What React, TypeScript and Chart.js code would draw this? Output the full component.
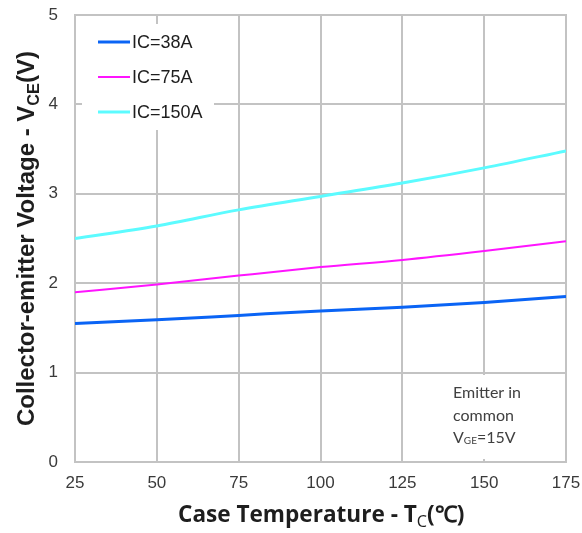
import { useEffect, useRef } from "react";
import { Chart, registerables } from "chart.js";

Chart.register(...registerables);

// Case temperature (°C) sample points
const temperatures = [25, 50, 75, 100, 125, 150, 175];

// Collector-emitter saturation voltage (V) per collector current
const vceIc38 = [1.55, 1.59, 1.64, 1.69, 1.73, 1.785, 1.85];
const vceIc75 = [1.9, 1.985, 2.085, 2.18, 2.26, 2.36, 2.47];
const vceIc150 = [2.5, 2.64, 2.82, 2.97, 3.12, 3.29, 3.48];

const seriesLabels = ["IC=38A", "IC=75A", "IC=150A"];
const seriesColors = ["#0a64f5", "#ff14ff", "#5cfbff"];
const seriesWidths = [3, 2, 3];

// Axis ranges and tick steps
const xRange = [25, 175];
const xStep = 25;
const yRange = [0, 5];
const yStep = 1;

// Axis titles: [main text, subscript, trailing text]
const xTitleParts = ["Case Temperature - T", "C", "(℃)"];
const yTitleParts = ["Collector-emitter Voltage - V", "CE", "(V)"];

// Test-condition note
const noteLines = ["Emitter in", "common"];
const noteCondition = ["V", "GE", "=15V"];

const GRID = "#c3c3c3";
const TEXT = "#1e1e1e";
const TICK_TEXT = "#3a3a3a";

type Fonts = { main: string; sub: string; tail: string };

function partsWidth(ctx: CanvasRenderingContext2D, parts: string[], f: Fonts) {
  ctx.font = f.main;
  const w0 = ctx.measureText(parts[0]).width;
  ctx.font = f.sub;
  const w1 = ctx.measureText(parts[1]).width;
  ctx.font = f.tail;
  const w2 = ctx.measureText(parts[2]).width;
  return [w0, w1, w2];
}

function drawSubscripted(
  ctx: CanvasRenderingContext2D,
  parts: string[],
  x0: number,
  f: Fonts,
  subShift: number
) {
  const [w0, w1] = partsWidth(ctx, parts, f);
  let x = x0;
  ctx.textAlign = "left";
  ctx.textBaseline = "alphabetic";
  ctx.font = f.main;
  ctx.fillText(parts[0], x, 0);
  x += w0;
  ctx.font = f.sub;
  ctx.fillText(parts[1], x, subShift);
  x += w1;
  ctx.font = f.tail;
  ctx.fillText(parts[2], x, 0);
}

// Pick a font size so that the composed title spans the requested length
function fitFonts(
  ctx: CanvasRenderingContext2D,
  parts: string[],
  make: (s: number) => Fonts,
  base: number,
  target: number
) {
  const w = partsWidth(ctx, parts, make(base)).reduce((a, b) => a + b, 0);
  return make((base * target) / w);
}

const decorPlugin = {
  id: "decor",
  afterDraw(chart: Chart) {
    const ctx = chart.ctx;
    const area = chart.chartArea;

    // Legend panel
    ctx.save();
    ctx.fillStyle = "#ffffff";
    ctx.fillRect(82, 24, 132, 106);
    const legendY = [42, 77, 112];
    seriesLabels.forEach((label, i) => {
      ctx.strokeStyle = seriesColors[i];
      ctx.lineWidth = seriesWidths[i];
      ctx.beginPath();
      ctx.moveTo(98, legendY[i]);
      ctx.lineTo(130, legendY[i]);
      ctx.stroke();
      ctx.fillStyle = TEXT;
      ctx.font = "18px 'Liberation Sans', Arial, sans-serif";
      ctx.textAlign = "left";
      ctx.textBaseline = "middle";
      ctx.fillText(label, 132, legendY[i] + 1);
    });
    ctx.restore();

    // Condition note panel
    ctx.save();
    ctx.fillStyle = "#ffffff";
    ctx.fillRect(404, 375, 159, 84);
    ctx.fillStyle = "#404040";
    ctx.font = "16px Lato, 'Open Sans', sans-serif";
    ctx.textAlign = "left";
    ctx.textBaseline = "alphabetic";
    ctx.fillText(noteLines[0], 453, 398);
    ctx.fillText(noteLines[1], 453, 421);
    ctx.translate(0, 443);
    drawSubscripted(
      ctx,
      noteCondition,
      453,
      {
        main: "16px Lato, 'Open Sans', sans-serif",
        sub: "10px Lato, 'Open Sans', sans-serif",
        tail: "16px Lato, 'Open Sans', sans-serif",
      },
      1
    );
    ctx.restore();

    // X axis title
    ctx.save();
    ctx.fillStyle = TEXT;
    const xFonts = fitFonts(
      ctx,
      xTitleParts,
      (s) => ({
        main: `bold ${s}px 'Open Sans', sans-serif`,
        sub: `${s * 0.72}px 'Open Sans', sans-serif`,
        tail: `bold ${s}px 'Open Sans', sans-serif`,
      }),
      20,
      287
    );
    ctx.translate(0, 522);
    drawSubscripted(ctx, xTitleParts, (area.left + area.right) / 2 - 287 / 2 + 1, xFonts, 5);
    ctx.restore();

    // Y axis title
    ctx.save();
    ctx.fillStyle = TEXT;
    const yFonts = fitFonts(
      ctx,
      yTitleParts,
      (s) => ({
        main: `bold ${s}px 'Liberation Sans', Arial, sans-serif`,
        sub: `bold ${s * 0.68}px 'Liberation Sans', Arial, sans-serif`,
        tail: `bold ${s}px 'Liberation Sans', Arial, sans-serif`,
      }),
      20,
      375
    );
    ctx.translate(34, (area.top + area.bottom) / 2);
    ctx.rotate(-Math.PI / 2);
    drawSubscripted(ctx, yTitleParts, -375 / 2, yFonts, 5);
    ctx.restore();
  },
};

function pinScale(scale: any) {
  scale.paddingTop = 0;
  scale.paddingBottom = 0;
  scale.paddingLeft = 0;
  scale.paddingRight = 0;
}

export default function App() {
  const canvasRef = useRef<HTMLCanvasElement | null>(null);

  useEffect(() => {
    const canvas = canvasRef.current;
    if (!canvas) return;
    const series = [vceIc38, vceIc75, vceIc150];
    const chart = new Chart(canvas, {
      type: "line",
      data: {
        datasets: series.map((values, i) => ({
          label: seriesLabels[i],
          data: values.map((v, j) => ({ x: temperatures[j], y: v })),
          borderColor: seriesColors[i],
          backgroundColor: seriesColors[i],
          borderWidth: seriesWidths[i],
          pointRadius: 0,
          cubicInterpolationMode: "monotone" as const,
          fill: false,
        })),
      },
      options: {
        responsive: false,
        animation: false,
        devicePixelRatio: 1,
        layout: {
          autoPadding: false,
          padding: { top: 15, right: 16, left: 0, bottom: 0 },
        },
        plugins: {
          legend: { display: false },
          tooltip: { enabled: false },
          title: { display: false },
        },
        scales: {
          x: {
            type: "linear",
            min: xRange[0],
            max: xRange[1],
            ticks: {
              stepSize: xStep,
              padding: 11,
              color: TICK_TEXT,
              font: { size: 17, family: "'Liberation Sans', Arial, sans-serif" },
            },
            grid: { color: GRID, lineWidth: 2, drawTicks: false },
            border: { display: true, color: GRID, width: 2 },
            afterFit(scale: any) {
              scale.height = 71;
              pinScale(scale);
            },
          },
          y: {
            type: "linear",
            min: yRange[0],
            max: yRange[1],
            ticks: {
              stepSize: yStep,
              padding: 17,
              color: TICK_TEXT,
              font: { size: 17, family: "'Liberation Sans', Arial, sans-serif" },
            },
            grid: { color: GRID, lineWidth: 2, drawTicks: false },
            border: { display: true, color: GRID, width: 2 },
            afterFit(scale: any) {
              scale.width = 75;
              pinScale(scale);
            },
          },
        },
      },
      plugins: [
        decorPlugin,
        {
          id: "frame",
          beforeDatasetsDraw(chart: Chart) {
            const { ctx, chartArea } = chart;
            ctx.save();
            ctx.strokeStyle = GRID;
            ctx.lineWidth = 2;
            ctx.strokeRect(
              chartArea.left,
              chartArea.top,
              chartArea.right - chartArea.left,
              chartArea.bottom - chartArea.top
            );
            ctx.restore();
          },
        },
      ],
    });
    return () => chart.destroy();
  }, []);

  return (
    <div style={{ position: "fixed", left: 0, top: 0, width: 582, height: 533, background: "#fff" }}>
      <canvas ref={canvasRef} width={582} height={533} />
    </div>
  );
}
